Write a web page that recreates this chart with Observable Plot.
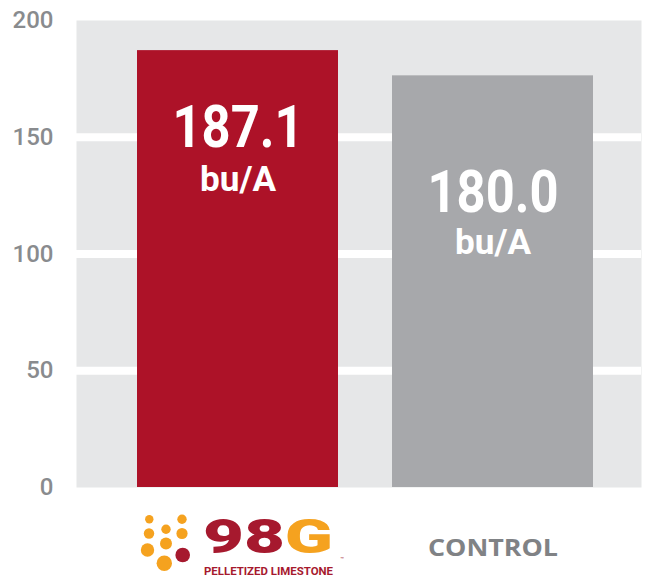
<!DOCTYPE html>
<html><head><meta charset="utf-8">
<script src="https://cdn.jsdelivr.net/npm/d3@7"></script>
<script src="https://cdn.jsdelivr.net/npm/@observablehq/plot@0.6"></script>
<style>body{margin:0;background:#fff}</style>
</head><body><div id="chart"></div>
<script>
const categories = ["98G", "CONTROL"];
const values = [187.1, 176.3];
const valueLabels = ["187.1", "180.0"];
const unitLabels = ["bu/A", "bu/A"];
const yTicks = [0, 50, 100, 150, 200];
const gridLines = [50, 100, 150];
const logoWord = ["98", "G"];
const logoTagline = "PELLETIZED LIMESTONE";
const logoMark = "™";

const data = categories.map((c, i) => ({cat: c, value: values[i], label: valueLabels[i], unit: unitLabels[i]}));
const barColors = ["#ad1228", "#a7a8ab"];
const numDy = [77.5, 116.5];
const unitDy = [129, 167];

const marks = [
  Plot.frame({fill: "#e6e7e8", stroke: "none"}),
  Plot.ruleY(gridLines, {stroke: "white", strokeWidth: 8}),
  Plot.barY(data, {x: "cat", y: "value", fill: "cat"}),
  ...data.map((d, i) => Plot.text([d], {x: "cat", y: "value", text: "label", fill: "white", fontSize: 60, fontWeight: "bold", dy: numDy[i]})),
  ...data.map((d, i) => Plot.text([d], {x: "cat", y: "value", text: "unit", fill: "white", fontSize: 35, fontWeight: "bold", dy: unitDy[i]})),
  Plot.axisY({ticks: yTicks, tickSize: 0, tickPadding: 23, fontSize: 24, fontWeight: 500, color: "#898b8e", label: null}),
  Plot.axisX({tickSize: 0, tickPadding: 51, fontSize: 24, fontWeight: "bold", fontFamily: "Open Sans", color: "#808285", label: null, tickFormat: d => d === "98G" ? "" : d})
];

const chart = Plot.plot({
  width: 646,
  height: 577,
  marginLeft: 76,
  marginRight: 5,
  marginTop: 20,
  marginBottom: 90,
  style: {fontFamily: "Roboto", background: "white"},
  x: {domain: categories, range: [109.3, 620.7], paddingInner: 0.21, paddingOuter: 0.105},
  y: {domain: [0, 200]},
  color: {domain: categories, range: barColors},
  marks
});
document.getElementById("chart").appendChild(chart);

const svg = d3.select(chart);
const fit = (txt, len) => svg.selectAll("text").filter(function(){ return this.textContent === txt; })
  .attr("textLength", len).attr("lengthAdjust", "spacingAndGlyphs");
valueLabels.forEach(t => fit(t, 131));
fit("bu/A", 76);
fit("CONTROL", 130);

// Logo under first bar
const xs = chart.scale("x");
const cx = xs.apply("98G") + xs.bandwidth / 2;
const logo = svg.append("g").attr("transform", `translate(${cx},0)`).attr("text-anchor", "start");
const orange = "#f5a21f", dark = "#a6192e";
const dots = [
  [-88.2, 519.3, 4.2, orange], [-55.5, 519.3, 4.7, orange],
  [-71.5, 529.3, 4.7, orange],
  [-88.5, 533.5, 5.2, orange], [-55.5, 533.5, 5.6, orange],
  [-71.5, 543.5, 6, orange],
  [-90, 550, 6.7, orange], [-54.8, 555, 7.3, dark],
  [-73.2, 563.3, 7.7, orange]
];
logo.selectAll("circle").data(dots).join("circle")
  .attr("cx", d => d[0]).attr("cy", d => d[1]).attr("r", d => d[2]).attr("fill", d => d[3]);
const word = logo.append("text").attr("x", -34.5).attr("y", 553).attr("text-anchor", "start")
  .attr("font-family", "Roboto").attr("font-weight", 900).attr("font-size", 48)
  .attr("textLength", 130).attr("lengthAdjust", "spacingAndGlyphs");
word.append("tspan").attr("fill", dark).text(logoWord[0]);
word.append("tspan").attr("fill", orange).text(logoWord[1]);
logo.append("text").attr("x", -33.5).attr("y", 574.5).attr("text-anchor", "start")
  .attr("font-family", "Roboto").attr("font-weight", "bold").attr("font-size", 10)
  .attr("fill", dark).attr("textLength", 129).attr("lengthAdjust", "spacingAndGlyphs").text(logoTagline);
logo.append("text").attr("x", 103).attr("y", 561).attr("text-anchor", "start")
  .attr("font-family", "Roboto").attr("font-size", 6).attr("fill", dark).text(logoMark);
</script>
</body></html>
